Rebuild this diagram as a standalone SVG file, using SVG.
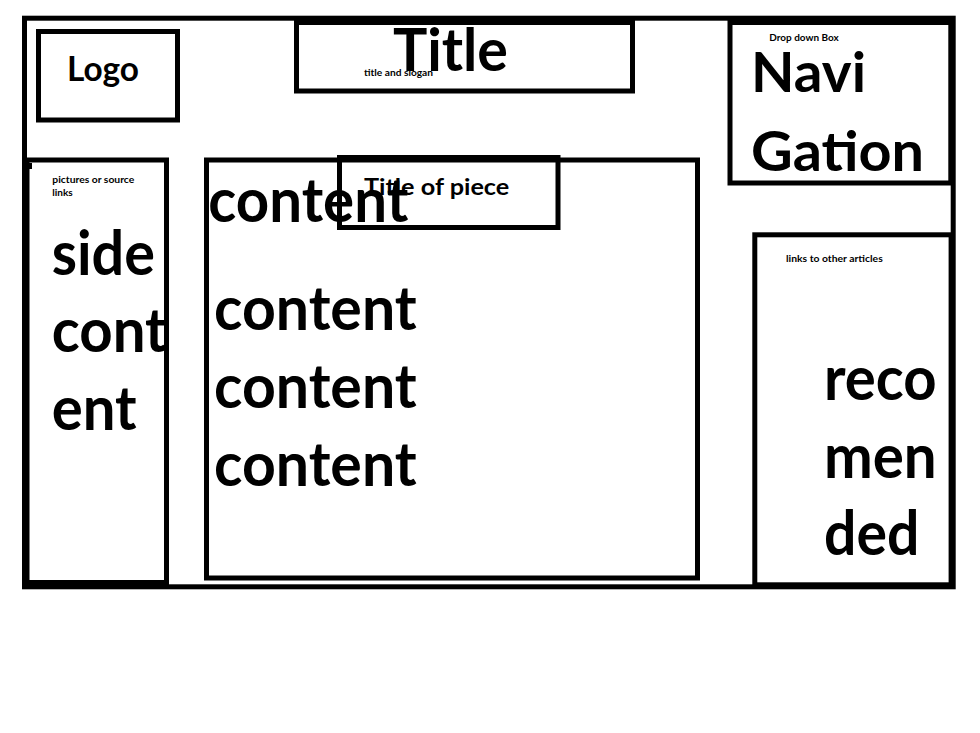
<svg xmlns="http://www.w3.org/2000/svg" width="980" height="733" viewBox="0 0 980 733">
<style>
.box{fill:none;stroke:#000;stroke-width:5}
text{font-family:Lato,"Open Sans","Liberation Sans",sans-serif;font-weight:bold;fill:#000}
.big{font-size:62px}
.sm{font-size:10px}
</style>
<rect x="0" y="0" width="980" height="733" fill="#fff"/>
<g id="page-frame">
<rect class="box" x="24.5" y="18.2" width="928.7" height="568.6"/>
</g>
<g id="logo">
<rect class="box" x="38.5" y="31.5" width="139" height="88.5"/>
<text x="67" y="80.7" font-size="33.5" textLength="72" lengthAdjust="spacingAndGlyphs">Logo</text>
</g>
<g id="title">
<rect class="box" x="296.5" y="22.5" width="336" height="68.5"/>
<text x="393" y="70.7" font-size="58.6" textLength="115" lengthAdjust="spacingAndGlyphs">Title</text>
<text class="sm" x="364" y="75.5" textLength="69" lengthAdjust="spacingAndGlyphs">title and slogan</text>
</g>
<g id="navigation">
<rect class="box" x="730" y="22.5" width="220.8" height="160.5"/>
<text class="sm" x="769.3" y="40.7" textLength="69.4" lengthAdjust="spacingAndGlyphs">Drop down Box</text>
<text x="751" y="91.7" font-size="56" textLength="115" lengthAdjust="spacingAndGlyphs">Navi</text>
<text x="751" y="170.7" font-size="56" textLength="173" lengthAdjust="spacingAndGlyphs">Gation</text>
</g>
<g id="side-content">
<rect class="box" x="27" y="160" width="139.5" height="422.5"/>
<rect x="27" y="163" width="5" height="6" fill="#000"/>
<text class="sm" x="52.3" y="183.3" textLength="82" lengthAdjust="spacingAndGlyphs">pictures or source</text>
<text class="sm" x="52.3" y="195.7">links</text>
<text class="big" x="51.7" y="275" textLength="103.3" lengthAdjust="spacingAndGlyphs">side</text>
<text class="big" x="51.7" y="351.7" textLength="115" lengthAdjust="spacingAndGlyphs">cont</text>
<text class="big" x="51.7" y="430" textLength="85" lengthAdjust="spacingAndGlyphs">ent</text>
</g>
<g id="main-content">
<rect class="box" x="206.5" y="160" width="491" height="418"/>
<text class="big" x="208.3" y="221.7" textLength="200" lengthAdjust="spacingAndGlyphs">content</text>
<text class="big" x="214" y="330" textLength="202.7" lengthAdjust="spacingAndGlyphs">content</text>
<text class="big" x="214" y="408.3" textLength="202.7" lengthAdjust="spacingAndGlyphs">content</text>
<text class="big" x="214" y="485.7" textLength="202.7" lengthAdjust="spacingAndGlyphs">content</text>
</g>
<g id="title-of-piece">
<rect class="box" x="339.5" y="157.5" width="218.5" height="70"/>
<text x="364" y="195" font-size="23.5" textLength="145.3" lengthAdjust="spacingAndGlyphs">Title of piece</text>
</g>
<g id="recommended">
<rect class="box" x="754.8" y="234.8" width="196.3" height="350"/>
<text class="sm" x="786" y="262.3" textLength="96.7" lengthAdjust="spacingAndGlyphs">links to other articles</text>
<text class="big" x="824" y="400" textLength="112.7" lengthAdjust="spacingAndGlyphs">reco</text>
<text class="big" x="824" y="478.3" textLength="112.7" lengthAdjust="spacingAndGlyphs">men</text>
<text class="big" x="824" y="555" textLength="95.3" lengthAdjust="spacingAndGlyphs">ded</text>
</g>
<g id="connectors"/>
</svg>
